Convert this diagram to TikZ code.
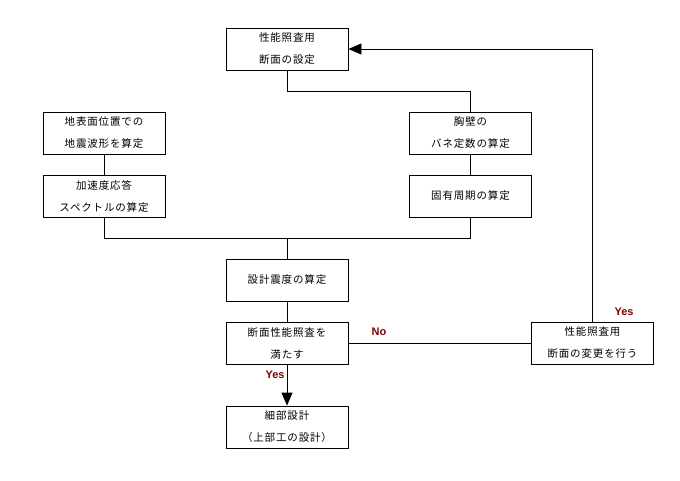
\documentclass[tikz,border=0pt]{standalone}
\usepackage{fontspec}
\setmainfont{Liberation Sans}
\newfontfamily\jp[LetterSpace=8]{Noto Sans CJK JP}
\usetikzlibrary{arrows.meta}
\definecolor{lbl}{RGB}{128,0,0}
\tikzset{
  box/.style={draw=black,line width=0.9pt,minimum width=122pt,minimum height=42pt,inner sep=0pt,align=center,font=\jp\fontsize{10.5}{22}\selectfont},
  conn/.style={line width=0.9pt},
  arr/.style={conn,-{Triangle[length=13pt,width=11pt]}},
  lab/.style={text=lbl,font=\bfseries\fontsize{11}{13}\selectfont,inner sep=0pt}
}
\begin{document}
\begin{tikzpicture}[x=1pt,y=-1pt]
\useasboundingbox (0,0) rectangle (680,480);
\node[box] (b1) at (287,49) {性能照査用\\断面の設定};
\node[box] (b2) at (104,133) {地表面位置での\\地震波形を算定};
\node[box] (b3) at (104,196) {加速度応答\\スペクトルの算定};
\node[box] (b4) at (470.5,133) {胸壁の\\バネ定数の算定};
\node[box] (b5) at (470.5,196) {固有周期の算定};
\node[box] (b6) at (287,280) {設計震度の算定};
\node[box] (b7) at (287,343) {断面性能照査を\\満たす};
\node[box] (b8) at (287,427) {細部設計\\（上部工の設計）};
\node[box] (b9) at (592.5,343) {性能照査用\\断面の変更を行う};
\draw[conn] (b1.south) -- ++(0,21) -| (b4.north);
\draw[conn] (b2) -- (b3);
\draw[conn] (b4) -- (b5);
\draw[conn] (b3.south) -- ++(0,21) -| (b5.south);
\draw[conn] (b6.north) -- ++(0,-21);
\draw[conn] (b6) -- (b7);
\draw[arr] (b7) -- (b8);
\draw[conn] (b7) -- (b9);
\draw[arr] (b9.north) |- (b1.east);
\node[lab] (no) at (379,332) {No};
\node[lab] (y1) at (624,312) {Yes};
\node[lab] (y2) at (275,375) {Yes};
\end{tikzpicture}
\end{document}
